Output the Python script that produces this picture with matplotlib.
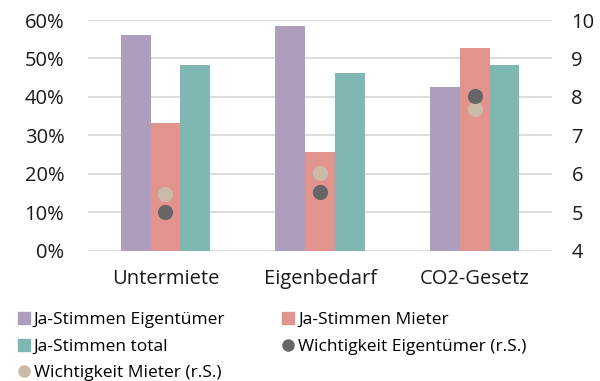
import numpy as np
import matplotlib.pyplot as plt
from matplotlib.lines import Line2D
from matplotlib.ticker import FuncFormatter

plt.rcParams['font.family'] = ['Open Sans', 'DejaVu Sans']

categories = ["Untermiete", "Eigenbedarf", "CO2-Gesetz"]
ja_eigentuemer = [56.1, 58.4, 42.7]
ja_mieter = [33.3, 25.6, 52.6]
ja_total = [48.4, 46.1, 48.4]
wichtigkeit_eigentuemer = [5.0, 5.53, 8.02]
wichtigkeit_mieter = [5.47, 6.02, 7.69]

c_eig = "#AE9EBD"
c_mie = "#E3938D"
c_tot = "#7FB8B3"
c_w_eig = "#666666"
c_w_mie = "#C9BBA8"

fig = plt.figure(figsize=(6, 3.81), dpi=100)
ax = fig.add_axes([0.1467, 0.342, 0.7733, 0.6055])
x = np.arange(len(categories))
w = 0.192

ax.bar(x - w, ja_eigentuemer, w, color=c_eig, zorder=2)
ax.bar(x, ja_mieter, w, color=c_mie, zorder=2)
ax.bar(x + w, ja_total, w, color=c_tot, zorder=2)

ax.set_ylim(0, 60)
ax.set_xlim(-0.5, 2.5)
ax.set_yticks(range(0, 61, 10))
ax.yaxis.set_major_formatter(FuncFormatter(lambda v, p: f"{int(v)}%"))
ax.set_xticks(x)
ax.set_xticklabels(categories)
ax.grid(axis='y', color="#D9D9D9", linewidth=1.3, zorder=0)
ax.set_axisbelow(True)
for s in ax.spines.values():
    s.set_visible(False)
ax.tick_params(length=0, labelsize=14.5, colors="#1a1a1a")
ax.tick_params(axis='y', pad=17)
ax.tick_params(axis='x', pad=13)

ax2 = ax.twinx()
ax2.set_ylim(4, 10)
ax2.set_yticks(range(4, 11))
for s in ax2.spines.values():
    s.set_visible(False)
ax2.tick_params(length=0, labelsize=14.5, colors="#1a1a1a", pad=14)
ax2.scatter(x, wichtigkeit_mieter, s=120, color=c_w_mie, zorder=3, linewidths=0)
ax2.scatter(x, wichtigkeit_eigentuemer, s=120, color=c_w_eig, zorder=4, linewidths=0)

def sq(c):
    return Line2D([], [], marker='s', linestyle='none', markersize=8, color=c)

def dot(c):
    return Line2D([], [], marker='o', linestyle='none', markersize=8, color=c)

handles = [sq(c_eig), sq(c_tot), dot(c_w_mie), sq(c_mie), dot(c_w_eig)]
labels = ["Ja-Stimmen Eigentümer", "Ja-Stimmen total", "Wichtigkeit Mieter (r.S.)",
          "Ja-Stimmen Mieter", "Wichtigkeit Eigentümer (r.S.)"]
fig.legend(handles, labels, ncol=2, loc='upper left', bbox_to_anchor=(0.03, 0.181),
           frameon=False, fontsize=12.5, handlelength=0.7, handletextpad=0.2,
           labelspacing=0.6, columnspacing=3.3, borderaxespad=0, borderpad=0)

fig.savefig("out.png", dpi=100)
